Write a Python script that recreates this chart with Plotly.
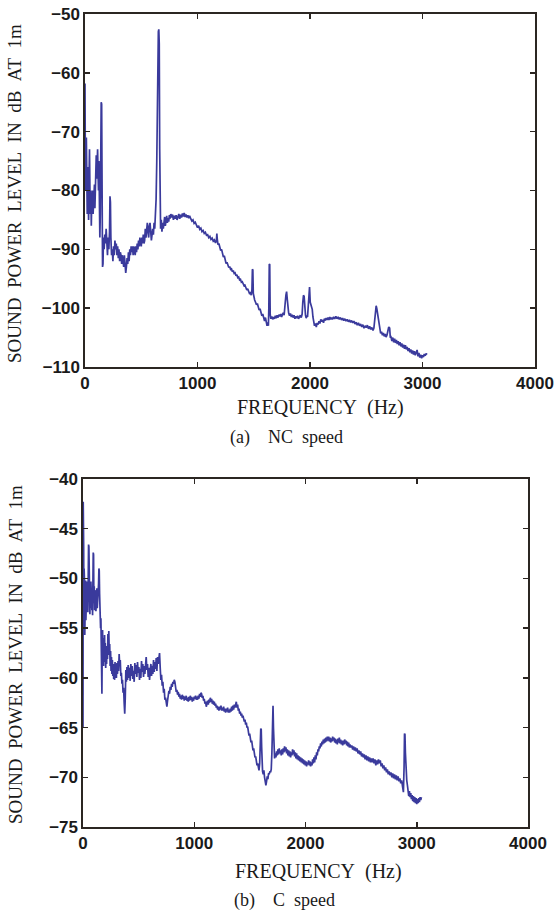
import plotly.graph_objects as go

# ---------------- data ----------------
nc_points = [
(0,-61.8),(4,-80),(8,-74),(12,-71),(16,-79),(20,-84),(24,-76),(28,-82),(32,-85),(36,-78),(40,-73),(44,-80),(48,-84),(52,-80),(56,-86),(60,-82),(64,-84),(68,-80),(72,-84),(76,-81),(80,-83),(84,-79),(88,-83),(92,-78),(96,-76),(100,-74),(104,-78),(108,-75),(112,-73),(116,-77),(120,-80),(124,-75),(128,-84),(132,-88),(136,-84),(140,-70),(144,-65),(148,-65.3),(152,-80),(156,-93),(160,-92.5),(164,-88),(170,-90),(176,-87.5),(182,-89),(188,-86.5),(194,-89),(200,-91),(206,-88),(212,-90),(218,-87),(222,-81),(226,-82),(230,-88),(236,-91),(242,-90),(248,-92),(254,-89.5),(260,-91),(266,-88.5),(272,-90),(278,-89),(284,-91),(290,-89.5),(296,-91.5),(302,-90),(308,-92),(314,-90.5),(320,-91),(326,-92.5),(332,-91),(338,-92),(344,-93),(350,-91),(356,-93),(362,-94),(368,-93),(374,-91.5),(380,-92.5),(386,-90.5),(392,-92),(398,-90),(404,-91),(410,-89.5),(416,-90.5),(422,-89.5),(428,-91),(434,-89.5),(440,-90),(446,-91),(452,-89.5),(458,-90.5),(464,-89),(470,-90),(476,-88.5),(482,-89.5),(488,-88),(494,-89),(500,-89.5),(506,-88),(512,-89),(518,-87.5),(524,-89),(530,-88.5),(536,-86.5),(542,-88),(548,-87),(554,-85.5),(560,-87),(566,-88),(572,-86),(578,-85.5),(584,-87),(590,-88.5),(596,-87.5),(602,-86.5),(608,-87.5),(614,-85.5),(620,-86.5),(626,-84),(632,-81.5),(638,-75),(644,-61),(648,-60.5),(652,-53),(656,-52.6),(660,-55),(664,-73),(668,-82),(672,-86.5),(678,-85),(684,-87),(690,-85.5),(696,-86.5),(702,-85.5),(708,-84.5),(714,-86),(720,-85),(726,-84.3),(732,-85.5),(738,-84.7),(744,-85.3),(750,-84.2),(756,-84.8),(762,-84),(770,-84.6),(778,-84.1),(786,-85),(794,-84.3),(802,-84.8),(810,-84.2),(818,-85),(826,-84.4),(834,-84),(842,-84.8),(850,-84.1),(858,-84.6),(866,-83.9),(874,-84.4),(882,-83.8),(890,-84.5),(898,-84.1),(906,-84.6),(914,-84.2),(922,-84.7),(930,-84.3),(940,-84.8),(950,-85.2),(960,-85),(970,-85.6),(980,-85.4),(990,-86),(1000,-86.3),
(1010,-86),(1020,-86.6),(1030,-86.4),(1040,-87),(1050,-86.8),(1060,-87.3),(1070,-87.1),(1080,-87.6),(1090,-87.5),(1100,-88),(1110,-87.8),(1120,-88.3),(1130,-88.1),(1140,-88.6),(1150,-88.4),(1160,-88.9),(1168,-88.5),(1172,-87.3),(1176,-88.3),(1182,-89.2),(1190,-89),(1198,-89.7),(1206,-90.2),(1214,-90),(1222,-90.8),(1230,-91.3),(1238,-91.1),(1246,-91.8),(1254,-92.4),(1262,-92.2),(1270,-92.6),(1278,-93.1),(1286,-92.9),(1294,-93.4),(1302,-93.3),(1310,-93.8),(1318,-93.6),(1326,-94.1),(1334,-94),(1342,-94.5),(1350,-94.3),(1358,-94.8),(1366,-94.7),(1374,-95.2),(1382,-95.1),(1390,-95.6),(1398,-95.5),(1406,-96),(1414,-96.2),(1422,-96.1),(1430,-96.6),(1438,-96.9),(1446,-96.7),(1454,-97.2),(1462,-97.5),(1470,-97.4),(1478,-97.8),(1484,-96.8),(1488,-93.4),(1492,-93.5),(1496,-97.5),(1500,-98.2),(1508,-98.6),(1516,-99),(1524,-99.4),(1532,-99.2),(1540,-99.9),(1548,-100.3),(1556,-100.1),(1564,-100.8),(1572,-101.3),(1580,-101),(1588,-101.8),(1596,-102.2),(1604,-101.6),(1612,-102.6),(1618,-103),(1624,-102.4),(1630,-103),(1634,-100),(1638,-92.5),(1642,-92.6),(1646,-101),(1652,-101.8),(1660,-101.4),(1668,-101.9),(1676,-101.5),(1684,-101.8),(1692,-101.3),(1700,-101.7),(1708,-101.2),(1716,-101.6),(1724,-101.1),(1732,-101.4),(1740,-101),(1748,-101.5),(1756,-101),(1764,-100.8),(1770,-101.2),(1776,-100.4),(1780,-99),(1786,-97.8),(1792,-97.2),(1798,-98.5),(1804,-100.3),(1810,-100.8),(1818,-101.3),(1826,-100.9),(1834,-101.5),(1842,-101.1),(1850,-101.6),(1858,-101.2),(1866,-101.8),(1874,-101.4),(1882,-101.7),(1890,-101.3),(1898,-101.8),(1906,-101.5),(1914,-101.2),(1922,-101.6),(1930,-101),(1936,-99),(1942,-97.8),(1948,-98),(1954,-100.5),(1960,-101.2),(1966,-101.7),(1972,-101.3),(1978,-101.5),(1984,-99.5),(1990,-96.5),(1996,-96.4),(2002,-99),(2008,-99.3),(2014,-99.8),(2020,-100.2),(2026,-101.5),(2032,-102.4),(2040,-103),(2048,-102.6),(2056,-103.2),(2064,-102.5),(2072,-102.8),(2080,-102.2),(2088,-102.6),(2096,-101.9),(2104,-102.3),(2112,-102),(2120,-102.5),(2128,-101.8),(2136,-102.1),(2144,-101.7),(2152,-102),(2160,-101.6),(2168,-102),(2176,-101.5),(2184,-101.9),(2192,-101.6),(2200,-101.9),(2210,-101.5),(2220,-101.8),(2230,-101.4),(2240,-101.8),(2250,-101.5),(2260,-101.9),(2270,-101.6),(2280,-102),(2290,-101.7),(2300,-102.1),(2310,-101.8),(2320,-102.2),(2330,-101.9),(2340,-102.3),(2350,-102),(2360,-102.4),(2370,-102.1),(2380,-102.5),(2390,-102.2),(2400,-102.7),(2410,-102.4),(2420,-102.9),(2430,-102.5),(2440,-103),(2450,-102.7),(2460,-103.2),(2470,-102.8),(2480,-103.4),(2490,-103),(2500,-103.3),(2510,-102.9),(2520,-103.5),(2530,-103.1),(2540,-103.6),(2550,-103.3),(2560,-103.8),(2568,-103.4),(2576,-102),(2582,-100.2),(2588,-99.6),(2594,-100.1),(2600,-101),(2606,-101.4),(2612,-102.8),(2620,-103.6),(2628,-104.3),(2636,-104),(2644,-104.6),(2652,-104.2),(2660,-104.8),(2668,-104.4),(2676,-104.9),(2684,-104.6),(2692,-103.8),(2700,-103.2),(2708,-103.4),(2714,-105),(2720,-104.9),(2728,-105.6),(2736,-105),(2744,-105.8),(2752,-105.2),(2760,-105.9),(2768,-105.4),(2776,-106.1),(2784,-105.6),(2792,-106.3),(2800,-105.8),(2808,-106.5),(2816,-106),(2824,-106.7),(2832,-106.2),(2840,-106.9),(2848,-106.3),(2856,-107),(2864,-106.6),(2872,-107.3),(2880,-106.8),(2888,-107.5),(2896,-107),(2904,-107.7),(2912,-107.2),(2920,-107.9),(2928,-107.3),(2936,-108),(2944,-107.5),(2952,-107.1),(2960,-108.2),(2968,-107.6),(2976,-108.4),(2984,-107.9),(2992,-108.5),(3000,-108),(3008,-108.3),(3016,-107.8),(3024,-108.1),(3032,-107.7),(3040,-107.9),
]

c_points = [
(0,-65),(2,-42.3),(4,-56),(6,-47),(8,-55.5),(10,-49),(12,-54),(14,-50.5),(16,-55.7),(18,-51),(20,-53.8),(23,-50.2),(26,-54.2),(29,-51),(32,-53.5),(35,-50.3),(38,-52.8),(41,-49.8),(44,-53.4),(47,-50.5),(50,-46.6),(53,-46.8),(56,-52),(59,-50.5),(62,-53.6),(65,-51.2),(68,-53),(71,-50.3),(74,-52.7),(77,-50.8),(80,-53.2),(83,-51.5),(86,-53.7),(89,-50.5),(92,-47.4),(95,-47.6),(98,-52.5),(101,-50.8),(104,-53.2),(107,-51.2),(110,-52.9),(113,-51.4),(116,-53.3),(119,-51.7),(122,-52.6),(125,-51),(128,-53),(131,-51.6),(134,-52.8),(137,-51.2),(140,-50.5),(143,-49),(146,-49.2),(149,-51.5),(152,-53.8),(155,-52.5),(158,-55),(161,-54),(164,-57.5),(167,-54.5),(170,-61.6),(173,-56.5),(176,-55.2),(179,-58.5),(182,-56.3),(185,-58.8),(188,-56),(191,-57.8),(194,-55.7),(197,-58.4),(200,-56.5),(204,-59),(208,-57.2),(212,-58.6),(216,-56.8),(220,-58.1),(224,-55.6),(228,-57.7),(232,-55.3),(236,-57.6),(240,-56.6),(244,-58.8),(248,-57.3),(252,-59.3),(256,-57.9),(260,-59.6),(264,-58.2),(268,-59.8),(272,-58.6),(276,-60.1),(280,-58.9),(284,-60.2),(288,-58.4),(292,-59.7),(296,-58.8),(300,-60),(305,-58.5),(310,-59.6),(315,-58.3),(320,-59.3),(325,-57.6),(330,-58.8),(335,-58.2),(340,-59.8),(345,-59.5),(350,-60.6),(355,-60.2),(360,-61.5),(365,-61),(370,-62.5),(375,-63.6),(380,-62),(385,-59.2),(390,-60.4),(395,-58.9),(400,-60.2),(406,-58.7),(412,-60),(418,-59),(424,-60.3),(430,-58.6),(436,-59.8),(442,-58.8),(448,-60.1),(454,-59.3),(460,-60.4),(466,-58.5),(472,-59.6),(478,-58.7),(484,-59.9),(490,-58.4),(496,-59.5),(502,-58.9),(508,-60.2),(514,-59.1),(520,-60),(526,-58.3),(532,-59.4),(538,-58.6),(544,-59.9),(550,-58.8),(556,-59.6),(562,-58.1),(568,-57.9),(574,-59.2),(580,-58.6),(586,-59.9),(592,-59),(598,-60.2),(604,-59.3),(610,-58.6),(616,-59.8),(622,-58.8),(628,-59.6),(634,-58.2),(640,-59.4),(646,-58.4),(652,-59.1),(658,-58),(664,-59.3),(670,-57.9),(676,-58.6),(682,-57.6),(688,-57.5),(694,-59),(700,-60.2),(706,-59.7),(712,-60.8),(718,-60.4),(724,-61.5),(730,-61.1),(736,-62.2),(742,-62),(748,-62.8),(754,-62.9),(760,-62.3),(766,-61.9),(772,-61.3),(778,-61.6),(784,-60.9),(790,-61.2),(796,-60.6),(802,-60.9),(808,-60.4),(814,-60.6),(820,-60.2),(826,-60.4),(832,-61),(838,-61.4),(844,-61.2),(850,-61.7),(856,-61.4),(862,-61.9),(868,-61.6),(874,-62.1),(880,-61.8),(886,-62.2),(892,-61.7),(898,-62.1),(904,-61.8),(910,-62.3),(916,-61.9),(922,-62.2),(928,-61.8),(934,-62.3),(940,-62),(946,-62.4),(952,-61.9),(958,-62.3),(964,-61.8),(970,-62.2),(976,-61.9),(982,-62.4),(988,-62),(994,-62.3),(1000,-61.9),
(1006,-62.1),(1012,-61.8),(1018,-62.2),(1024,-61.9),(1030,-62.2),(1036,-61.8),(1042,-62.1),(1048,-61.6),(1054,-61.9),(1060,-61.5),(1066,-61.6),(1072,-62),(1078,-61.8),(1084,-62.3),(1090,-62.1),(1096,-62.6),(1102,-62.4),(1108,-62.9),(1114,-62.7),(1120,-62.3),(1126,-62.7),(1132,-62.2),(1138,-62.5),(1144,-62),(1150,-62.4),(1156,-62.1),(1162,-62.6),(1168,-62.3),(1174,-62.7),(1180,-62.4),(1186,-62.8),(1192,-62.6),(1198,-63),(1204,-62.8),(1210,-63.2),(1216,-62.9),(1222,-63.3),(1228,-62.9),(1234,-63.2),(1240,-62.8),(1246,-63.3),(1252,-63),(1258,-63.3),(1264,-62.9),(1270,-63.4),(1276,-63.1),(1282,-63.5),(1288,-63.1),(1294,-63.4),(1300,-63),(1306,-63.5),(1312,-63.2),(1318,-63.5),(1324,-63.1),(1330,-63.4),(1336,-62.9),(1342,-63.3),(1348,-62.8),(1354,-63.2),(1360,-62.7),(1366,-63),(1372,-62.5),(1378,-62.4),(1384,-63),(1390,-62.7),(1396,-63.3),(1402,-63.1),(1408,-63.6),(1414,-63.4),(1420,-63.8),(1426,-63.6),(1432,-64),(1438,-63.8),(1444,-64.1),(1450,-64.4),(1456,-64.2),(1462,-64.7),(1468,-64.5),(1474,-65),(1480,-64.9),(1486,-65.4),(1492,-65.8),(1498,-65.6),(1504,-66.2),(1510,-66.5),(1516,-66.3),(1522,-66.9),(1528,-67.3),(1534,-67.1),(1540,-67.7),(1546,-68),(1552,-67.9),(1558,-68.5),(1564,-68.8),(1570,-68.6),(1576,-69.1),(1582,-69.3),(1588,-68.6),(1594,-66.5),(1598,-65.1),(1602,-65.2),(1606,-67),(1610,-69),(1614,-69.4),(1620,-69.7),(1626,-69.3),(1632,-70),(1638,-70.3),(1644,-70.8),(1650,-70.4),(1656,-69.9),(1662,-70.2),(1668,-69.6),(1674,-69.7),(1680,-69.4),(1686,-69.5),(1692,-69.2),(1698,-67.5),(1704,-62.9),(1708,-62.8),(1712,-65),(1716,-67.8),(1722,-68.1),(1728,-67.6),(1734,-68),(1740,-67.4),(1746,-67.8),(1752,-67.2),(1758,-67.7),(1764,-67.1),(1770,-67.6),(1776,-67.3),(1782,-67.8),(1788,-67.2),(1794,-67.7),(1800,-67.1),(1806,-67.5),(1812,-66.9),(1818,-67.4),(1824,-67),(1830,-67.6),(1836,-67.2),(1842,-67.8),(1848,-67.3),(1854,-67.9),(1860,-67.4),(1866,-68),(1872,-67.5),(1878,-67.8),(1884,-67.2),(1890,-67.7),(1896,-67.3),(1902,-67.9),(1908,-67.5),(1914,-68.1),(1920,-67.6),(1926,-68.2),(1932,-67.8),(1938,-68.3),(1944,-67.9),(1950,-68.4),(1956,-68),(1962,-68.5),(1968,-68.1),(1974,-68.6),(1980,-68.2),(1986,-68.7),(1992,-68.3),(1998,-68.8),(2004,-68.4),(2010,-68.9),(2016,-68.5),(2022,-68.7),(2028,-68.3),(2034,-68.8),(2040,-68.4),(2046,-68.9),(2052,-68.5),(2058,-68.8),(2064,-68.2),(2070,-68.6),(2076,-68),(2082,-68.5),(2088,-67.8),(2094,-68.2),(2100,-67.5),(2106,-67.8),(2112,-67.2),(2118,-67.4),(2124,-66.9),(2130,-67.1),(2136,-66.6),(2142,-66.9),(2148,-66.4),(2154,-66.7),(2160,-66.2),(2166,-66.6),(2172,-66.1),(2178,-66.5),(2184,-66),(2190,-66.4),(2196,-65.9),(2202,-66.3),(2208,-65.9),(2214,-66.4),(2220,-66),(2226,-66.5),(2232,-66.1),(2238,-66.4),(2244,-65.9),(2250,-66.3),(2256,-66),(2262,-66.5),(2268,-66.1),(2274,-66.6),(2280,-66.2),(2286,-66.7),(2292,-66.1),(2298,-66.5),(2304,-66),(2310,-66.6),(2316,-66.2),(2322,-66.7),(2328,-66.3),(2334,-66.8),(2340,-66.3),(2346,-66.7),(2352,-66.2),(2358,-66.6),(2364,-66.3),(2370,-66.8),(2376,-66.4),(2382,-66.9),(2388,-66.5),(2394,-67),
(2400,-66.7),(2408,-67),(2416,-66.8),(2424,-67.2),(2432,-66.9),(2440,-67.3),(2448,-67),(2456,-67.4),(2464,-67.1),(2472,-67.6),(2480,-67.3),(2488,-67.7),(2496,-67.4),(2504,-67.9),(2512,-67.6),(2520,-68),(2528,-67.7),(2536,-68.2),(2544,-67.8),(2552,-68.3),(2560,-67.9),(2568,-68.4),(2576,-68),(2584,-68.5),(2592,-68.1),
(2600,-68.5),(2608,-68.1),(2616,-68.6),(2624,-68.2),(2632,-68.8),(2640,-68.3),(2648,-68.7),(2656,-68.2),(2664,-68.6),(2672,-68.3),(2680,-68.9),(2688,-68.6),(2696,-69.1),(2704,-68.8),(2712,-69.3),(2720,-69),(2728,-69.5),(2736,-69.2),(2744,-69.7),(2752,-69.4),(2760,-69.8),(2768,-69.5),(2776,-70),(2784,-69.6),(2792,-70.1),(2800,-69.7),(2808,-70.2),(2816,-69.8),(2824,-70.3),(2832,-69.9),(2840,-70.4),(2848,-70.1),(2856,-70.6),(2864,-70.3),(2872,-71),(2880,-71.5),
(2886,-69),(2890,-65.6),(2894,-65.7),(2898,-67.5),(2904,-69.4),(2910,-70.3),(2916,-70.8),(2922,-71.5),(2928,-71.9),(2934,-71.4),(2940,-72),(2946,-71.6),(2952,-72.2),(2958,-71.8),(2964,-72.4),(2970,-71.9),(2976,-72.5),(2982,-72),(2988,-72.6),(2994,-72.1),(3000,-72.7),(3006,-72.2),(3012,-72.6),(3018,-72.1),(3024,-72.5),(3030,-72),(3036,-72.3),(3042,-72),
]

x_ticks = [0, 1000, 2000, 3000, 4000]
nc_y_ticks = [-110, -100, -90, -80, -70, -60, -50]
c_y_ticks = [-75, -70, -65, -60, -55, -50, -45, -40]

NB = "\u00a0"
x_title = "FREQUENCY" + NB * 2 + "(Hz)"
y_title = (NB * 2).join(["SOUND", "POWER", "LEVEL", "IN", "dB", "AT", "1m"])
caption_a = "(a)" + NB * 4 + "NC" + NB * 2 + "speed"
caption_b = "(b)" + NB * 4 + "C" + NB * 2 + "speed"

nc_freq = [p[0] for p in nc_points]
nc_level = [p[1] for p in nc_points]
c_freq = [p[0] for p in c_points]
c_level = [p[1] for p in c_points]

# ---------------- figure ----------------
W, H = 559, 911
LINE = "#3a3a9c"
AX = "#2b2622"
tickfont = dict(family="Liberation Sans, Arial", size=17, color="#1a1a1a", weight="bold")
serif = "Liberation Serif, Times New Roman, serif"

fig = go.Figure()
fig.add_trace(go.Scatter(x=nc_freq, y=nc_level, mode="lines",
                         line=dict(color=LINE, width=1.7), xaxis="x", yaxis="y",
                         showlegend=False, hoverinfo="skip"))
fig.add_trace(go.Scatter(x=c_freq, y=c_level, mode="lines",
                         line=dict(color=LINE, width=1.7), xaxis="x2", yaxis="y2",
                         showlegend=False, hoverinfo="skip"))

def px_x(p):
    return p / W

def px_y(p):
    return 1 - p / H

axis_common = dict(showline=True, mirror="ticks", linecolor=AX, linewidth=1.6,
                   ticks="inside", ticklen=5, tickwidth=1.5, tickcolor=AX,
                   showgrid=False, zeroline=False, tickfont=tickfont,
                   automargin=False)

fig.update_layout(
    width=W, height=H, margin=dict(l=0, r=0, t=0, b=0, autoexpand=False),
    paper_bgcolor="white", plot_bgcolor="white",
    xaxis=dict(domain=[px_x(85), px_x(535)], range=[0, 4000], tickvals=x_ticks,
               anchor="y", **axis_common),
    yaxis=dict(domain=[px_y(367), px_y(14)], range=[-110, -50], tickvals=nc_y_ticks,
               anchor="x", **axis_common),
    xaxis2=dict(domain=[px_x(83), px_x(528)], range=[0, 4000], tickvals=x_ticks,
                anchor="y2", **axis_common),
    yaxis2=dict(domain=[px_y(827), px_y(479)], range=[-75, -40], tickvals=c_y_ticks,
                anchor="x2", **axis_common),
)

ann = []
def text(t, x, y, size, angle=0):
    ann.append(dict(text=t, x=px_x(x), y=px_y(y), xref="paper", yref="paper",
                    showarrow=False, textangle=angle, xanchor="center", yanchor="middle",
                    font=dict(family=serif, size=size, color="#1a1a1a")))

text(x_title, 320, 408, 20)
text(caption_a, 286, 437, 18)
text(y_title, 15, 194, 19, angle=-90)
text(x_title, 318, 871, 20)
text(caption_b, 284, 900, 18)
text(y_title, 15, 655, 19, angle=-90)
fig.update_layout(annotations=ann)

fig.write_html("out.html",
               config={"displayModeBar": False, "staticPlot": True},
               post_script="document.body.style.margin='0';"
                           "document.body.style.overflow='hidden';")
